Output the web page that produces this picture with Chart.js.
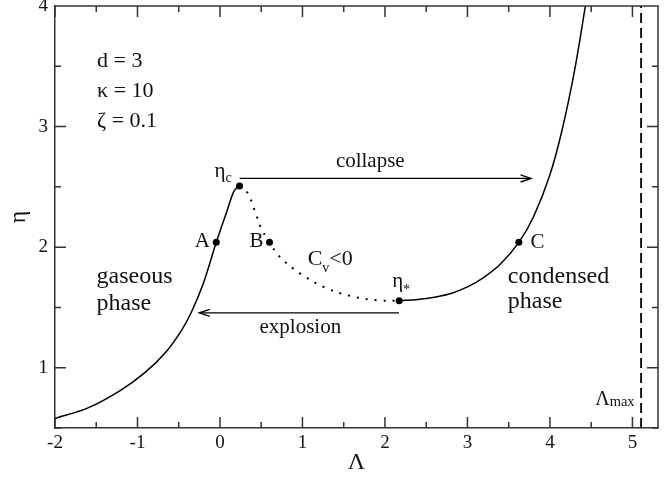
<!DOCTYPE html>
<html>
<head>
<meta charset="utf-8">
<script src="https://cdn.jsdelivr.net/npm/chart.js@4/dist/chart.umd.min.js"></script>
<style>
  html, body { margin: 0; padding: 0; background: #fff; }
</style>
</head>
<body>
<canvas id="chart" width="672" height="478"></canvas>
<script>
// Caloric curve eta(Lambda) for d = 3, kappa = 10, zeta = 0.1

// gaseous branch, from the left edge up to eta_c
const gasLambda = [-2, -1.6, -1.2, -0.9, -0.65, -0.47, -0.35, -0.2, -0.045, 0.08, 0.16, 0.205, 0.237];
const gasEta    = [0.579, 0.667, 0.815, 0.965, 1.135, 1.306, 1.456, 1.703, 2.04, 2.29, 2.45, 2.495, 2.507];

// unstable branch (negative specific heat), eta_c down to eta_*
const unstableLambda = [0.237, 0.337, 0.418, 0.499, 0.6, 0.721, 0.963, 1.285, 1.607, 1.93, 2.172];
const unstableEta    = [2.507, 2.447, 2.309, 2.157, 2.04, 1.922, 1.785, 1.661, 1.591, 1.558, 1.556];

// condensed branch, eta_* upwards
const condLambda = [2.172, 2.4, 2.6, 2.8, 3.0, 3.2, 3.4, 3.623, 3.8, 4.0, 4.15, 4.3, 4.43];
const condEta    = [1.556, 1.566, 1.585, 1.615, 1.67, 1.75, 1.86, 2.04, 2.25, 2.6, 2.98, 3.47, 4.0];

// marked states: eta_c, A, B, eta_*, C
const markerLambda = [0.237, -0.045, 0.6, 2.172, 3.623];
const markerEta    = [2.507, 2.04, 2.04, 1.556, 2.04];

// maximum Lambda (vertical asymptote)
const lambdaMax = 5.105;

// phase transitions
const collapseLambda  = [0.24, 3.77];
const collapseEta     = [2.57, 2.57];
const explosionLambda = [2.17, -0.25];
const explosionEta    = [1.455, 1.455];

// axis ticks
const xTickValues = [-2, -1.5, -1, -0.5, 0, 0.5, 1, 1.5, 2, 2.5, 3, 3.5, 4, 4.5, 5];
const yTickValues = [0.5, 1, 1.5, 2, 2.5, 3, 3.5, 4];

// parameter block
const paramLines = ['d = 3', 'κ = 10', 'ζ = 0.1'];

const SERIF = '"Liberation Serif", "Times New Roman", serif';
const INK = '#111';
const AXIS = '#333';

const pts = (xs, ys) => xs.map((x, i) => ({ x, y: ys[i] }));

const lineBase = {
  showLine: true,
  fill: false,
  pointRadius: 0,
  pointHoverRadius: 0,
  borderColor: '#000',
  borderWidth: 1.5,
};

// Inward tick marks on all four sides plus the top/right frame lines
const frameTicks = {
  id: 'frameTicks',
  afterDraw(chart) {
    const { ctx, chartArea: a, scales: { x, y } } = chart;
    ctx.save();
    ctx.strokeStyle = AXIS;
    ctx.lineWidth = 1.5;
    ctx.beginPath();
    ctx.moveTo(a.left, a.top);
    ctx.lineTo(a.right, a.top);
    ctx.lineTo(a.right, a.bottom);
    xTickValues.forEach(v => {
      const px = x.getPixelForValue(v);
      const len = Number.isInteger(v) ? 11 : 6;
      ctx.moveTo(px, a.bottom); ctx.lineTo(px, a.bottom - len);
      ctx.moveTo(px, a.top);    ctx.lineTo(px, a.top + len);
    });
    yTickValues.forEach(v => {
      const py = y.getPixelForValue(v);
      const len = Number.isInteger(v) ? 11 : 6;
      ctx.moveTo(a.left, py);  ctx.lineTo(a.left + len, py);
      ctx.moveTo(a.right, py); ctx.lineTo(a.right - len, py);
    });
    ctx.stroke();
    ctx.restore();
  }
};

// Open arrow heads at the end of datasets flagged with arrowHead
const arrowHeads = {
  id: 'arrowHeads',
  afterDatasetsDraw(chart) {
    const { ctx } = chart;
    chart.data.datasets.forEach((ds, i) => {
      if (!ds.arrowHead) return;
      const pts = chart.getDatasetMeta(i).data;
      const p1 = pts[pts.length - 2], p2 = pts[pts.length - 1];
      const ang = Math.atan2(p2.y - p1.y, p2.x - p1.x);
      const L = 11, spread = 0.33;
      ctx.save();
      ctx.strokeStyle = '#000';
      ctx.lineWidth = 1.4;
      ctx.beginPath();
      ctx.moveTo(p2.x - L * Math.cos(ang - spread), p2.y - L * Math.sin(ang - spread));
      ctx.lineTo(p2.x, p2.y);
      ctx.lineTo(p2.x - L * Math.cos(ang + spread), p2.y - L * Math.sin(ang + spread));
      ctx.stroke();
      ctx.restore();
    });
  }
};

// Text annotations placed in data coordinates; parts = [text, size, baseline shift]
const notes = {
  id: 'notes',
  afterDraw(chart) {
    const { ctx, scales: { x, y } } = chart;
    const put = (lx, ly, parts) => {
      let px = x.getPixelForValue(lx);
      const py = y.getPixelForValue(ly);
      ctx.save();
      ctx.fillStyle = INK;
      ctx.textAlign = 'left';
      ctx.textBaseline = 'alphabetic';
      parts.forEach(([t, size, dy]) => {
        ctx.font = size + 'px ' + SERIF;
        ctx.fillText(t, px, py + (dy || 0));
        px += ctx.measureText(t).width;
      });
      ctx.restore();
    };
    put(-1.49, 3.495, [[paramLines[0], 22]]);
    put(-1.49, 3.247, [[paramLines[1], 22]]);
    put(-1.49, 2.998, [[paramLines[2], 22]]);

    put(1.405, 2.665, [['collapse', 21]]);
    put(0.479, 1.29,  [['explosion', 21]]);

    put(-1.496, 1.704, [['gaseous', 24]]);
    put(-1.496, 1.481, [['phase', 24]]);
    put(3.49, 1.704,  [['condensed', 24]]);
    put(3.49, 1.497,  [['phase', 24]]);

    put(-0.307, 2.003, [['A', 21]]);
    put(0.358, 2.003,  [['B', 21]]);
    put(3.764, 1.994,  [['C', 21]]);

    put(-0.065, 2.582, [['η', 21], ['c', 14, 5]]);
    put(2.087, 1.672,  [['η', 21], ['*', 14, 7.5]]);
    put(1.063, 1.853,  [['C', 22], ['v', 14, 7], ['<0', 22]]);
    put(4.548, 0.694,  [['Λ', 20], ['max', 14.5, 1]]);
  }
};

const tickFont = { family: SERIF, size: 19 };
const intLabel = v => Number.isInteger(v) ? String(v) : '';

new Chart(document.getElementById('chart'), {
  type: 'scatter',
  data: {
    datasets: [
      { ...lineBase, data: pts(gasLambda, gasEta), tension: 0.35 },
      { ...lineBase, data: pts(unstableLambda, unstableEta), tension: 0.35,
        borderWidth: 2, borderDash: [2, 7] },
      { ...lineBase, data: pts(condLambda, condEta), tension: 0.35 },
      { ...lineBase, data: pts([lambdaMax, lambdaMax], [0.5, 4]), borderWidth: 1.8, borderDash: [10, 5] },
      { ...lineBase, data: pts(collapseLambda, collapseEta), borderWidth: 1.4, arrowHead: true },
      { ...lineBase, data: pts(explosionLambda, explosionEta), borderWidth: 1.4, arrowHead: true },
      { data: pts(markerLambda, markerEta), showLine: false, pointRadius: 3.5, pointHoverRadius: 3.5,
        pointBackgroundColor: '#000', pointBorderWidth: 0 }
    ]
  },
  options: {
    responsive: false,
    animation: false,
    events: [],
    layout: { padding: { top: 6, right: 14, left: 0, bottom: 0 } },
    plugins: { legend: { display: false }, tooltip: { enabled: false } },
    scales: {
      x: {
        type: 'linear',
        position: 'bottom',
        min: -2,
        max: 5.31,
        afterBuildTicks: s => { s.ticks = xTickValues.map(value => ({ value })); },
        afterFit: s => { s.height = 50; s.paddingLeft = 0; s.paddingRight = 0; },
        ticks: { font: tickFont, color: INK, padding: 4, autoSkip: false, maxRotation: 0, callback: intLabel },
        grid: { display: false, drawTicks: false },
        border: { display: true, color: AXIS, width: 1.5 },
        title: { display: true, text: 'Λ', font: { family: SERIF, size: 24 }, color: INK, padding: { top: 0, bottom: 1 } }
      },
      y: {
        type: 'linear',
        position: 'left',
        min: 0.5,
        max: 4,
        afterBuildTicks: s => { s.ticks = yTickValues.map(value => ({ value })); },
        afterFit: s => { s.width = 55; s.paddingTop = 0; s.paddingBottom = 0; },
        ticks: { font: tickFont, color: INK, padding: 7, autoSkip: false, callback: intLabel },
        grid: { display: false, drawTicks: false },
        border: { display: true, color: AXIS, width: 1.5 },
        title: { display: true, text: 'η', font: { family: SERIF, size: 24 }, color: INK, padding: { top: 4, bottom: 0 } }
      }
    }
  },
  plugins: [frameTicks, arrowHeads, notes]
});
</script>
</body>
</html>
